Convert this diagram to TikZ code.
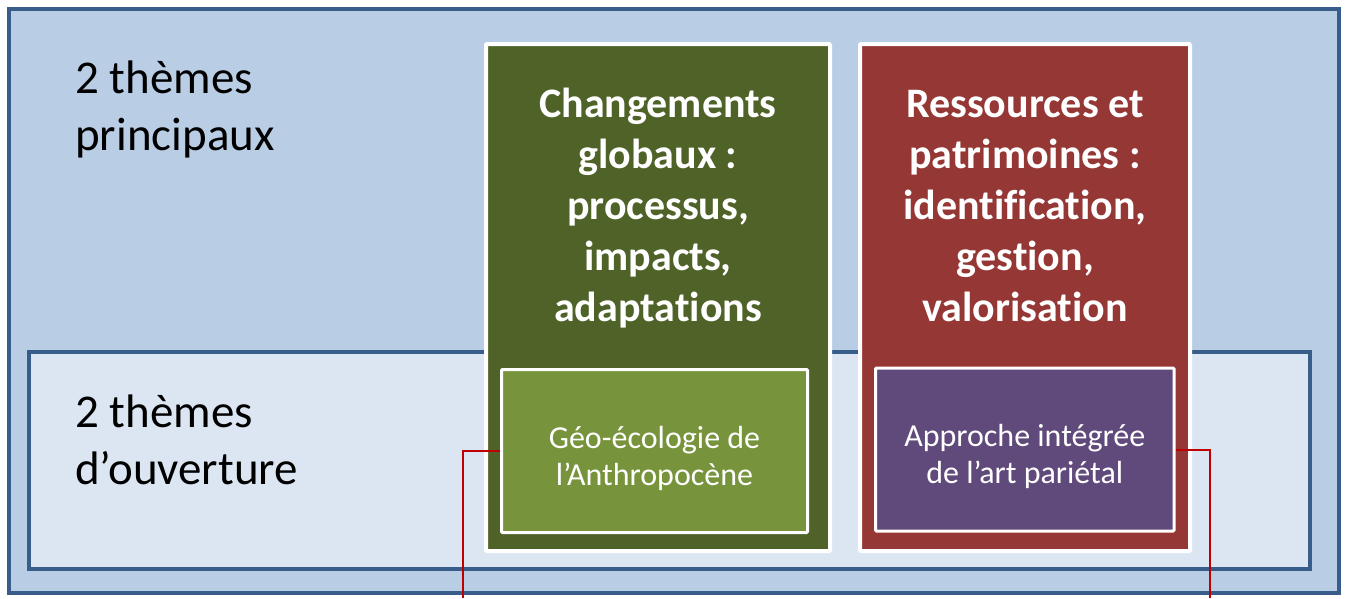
\documentclass[tikz,border=0pt]{standalone}
\usepackage{fontspec}
\setmainfont[RawFeature={-liga;-clig;-calt;-dlig}]{Carlito}
\usetikzlibrary{positioning}
\definecolor{frameBlue}{HTML}{385D8A}
\definecolor{panelBlue}{HTML}{B9CDE5}
\definecolor{paleBlue}{HTML}{DCE6F2}
\definecolor{oliveDark}{HTML}{4F6228}
\definecolor{oliveLight}{HTML}{77933C}
\definecolor{brickRed}{HTML}{953735}
\definecolor{plum}{HTML}{604A7B}
\definecolor{linkRed}{HTML}{C00000}
\tikzset{
    panel/.style={draw=frameBlue, line width=4pt, inner sep=0pt},
    themeBox/.style={draw=white, line width=4pt, rounded corners=1pt, minimum height=507pt, inner sep=0pt},
    subBox/.style={draw=white, line width=3pt, rounded corners=1pt, minimum height=163pt, inner sep=0pt},
    subText/.style={text=white, align=center, inner sep=0pt, font=\fontsize{32}{37}\selectfont},
    themeTitle/.style={text=white, align=center, inner sep=0pt, anchor=north,
        font=\bfseries\fontsize{42}{51}\selectfont},
    sideLabel/.style={align=left, inner sep=0pt, anchor=north west, font=\fontsize{47}{57}\selectfont},
    redLink/.style={draw=linkRed, line width=2pt}
}

\begin{document}
\begin{tikzpicture}[x=1pt,y=-1pt]
    \useasboundingbox (0,0) rectangle (1345,598);
    % panels
    \node[panel, fill=panelBlue, minimum width=1330pt, minimum height=584pt] (main) at (674,301) {};
    \node[panel, fill=paleBlue, minimum width=1281pt, minimum height=217pt] (open) at (669.5,460.5) {};
    \node[sideLabel] (mainLbl) at (75,61) {2 thèmes\\principaux};
    \node[sideLabel] (openLbl) at (75,395) {2 thèmes\\d’ouverture};
    % main themes
    \node[themeBox, fill=oliveDark, minimum width=344pt] (chg) at (658,297.5) {};
    \node[themeBox, fill=brickRed, minimum width=330pt] (res) at (1025,297.5) {};
    \node[themeTitle] (chgTitle) at ([yshift=-46pt]chg.north) {Changements\\globaux :\\processus,\\impacts,\\adaptations};
    \node[themeTitle] (resTitle) at ([yshift=-48pt]res.north) {Ressources et\\patrimoines :\\identification,\\gestion,\\valorisation};
    % opening themes
    \node[subBox, fill=oliveLight, minimum width=306pt] (geo) at (654.5,451) {};
    \node[subBox, fill=plum, minimum width=298.5pt] (art) at (1024.75,449.5) {};
    \node[subText] (geoText) at ([yshift=-7pt]geo.center) {Géo-écologie de\\l’Anthropocène};
    \node[subText] (artText) at ([yshift=-7pt]art.center) {Approche intégrée\\de l’art pariétal};
    \coordinate (geoEnd) at (463,598);
    \coordinate (artEnd) at (1210,598);
    \draw[redLink] (geo.west) -| (geoEnd);
    \draw[redLink] (art.east) -| (artEnd);
\end{tikzpicture}
\end{document}
